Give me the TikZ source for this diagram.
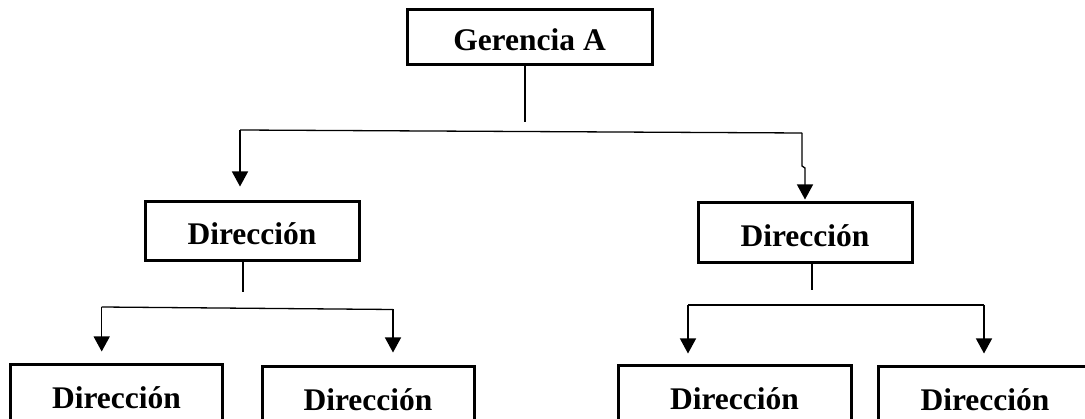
\documentclass[tikz,border=0pt]{standalone}
\usepackage{fontspec}
\setmainfont{Liberation Serif}
\usetikzlibrary{arrows.meta}
\begin{document}
\begin{tikzpicture}[x=1pt, y=-1pt,
  orgbox/.style={draw, line width=3pt, inner sep=0pt,
    font=\bfseries\fontsize{31.5}{36}\selectfont,
    text height=27pt, text depth=0pt},
  conn/.style={line width=1.3pt},
  arr/.style={conn, -{Triangle[width=16pt,length=15pt]}}]
  \fill[white] (0,0) rectangle (1085,419);
  \useasboundingbox (0,0) rectangle (1085,419);

  % boxes
  \node[orgbox, minimum width=245pt, minimum height=55pt] (G) at (529.5,37.5) {Gerencia A};
  \node[orgbox, minimum width=214pt, minimum height=59pt] (D1) at (252,231.5) {Dirección};
  \node[orgbox, minimum width=214pt, minimum height=60pt] (D2) at (805,233) {Dirección};
  \node[orgbox, minimum width=212pt, minimum height=60pt] (B1) at (116.5,395) {Dirección};
  \node[orgbox, minimum width=212pt, minimum height=60pt] (B2) at (368,397) {Dirección};
  \node[orgbox, minimum width=233pt, minimum height=60pt] (B3) at (734.5,396) {Dirección};
  \node[orgbox, minimum width=214pt, minimum height=60pt] (B4) at (985,397) {Dirección};

  % top level
  \coordinate (g1) at (525,122);
  \coordinate (hl) at (240,130);
  \coordinate (hr) at (802,133);
  \coordinate (hj) at (802,166);
  \coordinate (hk) at (805,168);
  \draw[conn] (G.south -| g1) -- (g1);
  \draw[conn] (hl) -- (hr);
  \draw[arr] (hl) -- ([yshift=14pt]D1.north -| hl);
  \draw[arr] (hr) -- (hj) -- (hk) -- ([yshift=2pt]D2.north -| hk);

  % left branch
  \coordinate (d1) at (243,292);
  \coordinate (l1) at (101.7,307);
  \coordinate (l2) at (393,309.5);
  \draw[conn] (D1.south -| d1) -- (d1);
  \draw[conn] (l1) -- (l2);
  \draw[arr] (l1) -- ([yshift=12pt]B1.north -| l1);
  \draw[arr] (l2) -- ([yshift=13pt]B2.north -| l2);

  % right branch
  \coordinate (d2) at (812,290);
  \coordinate (r1) at (688,305);
  \coordinate (r2) at (984,305);
  \draw[conn] (D2.south -| d2) -- (d2);
  \draw[conn] (r1) -- (r2);
  \draw[arr] (r1) -- ([yshift=11pt]B3.north -| r1);
  \draw[arr] (r2) -- ([yshift=12pt]B4.north -| r2);
\end{tikzpicture}
\end{document}
